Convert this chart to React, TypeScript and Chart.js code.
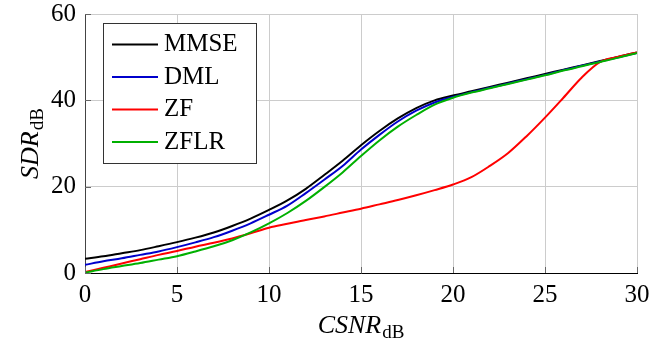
import React, { useEffect, useRef } from "react";
import { Chart, registerables } from "chart.js";

Chart.register(...registerables);

const csnr = [0, 1, 2, 3, 4, 5, 6, 7, 8, 9, 10, 11, 12, 13, 14, 15, 16, 17, 18, 19, 20, 21, 22, 23, 24, 25, 26, 27, 28, 29, 30];
const mmse = [3.3, 3.9, 4.6, 5.3, 6.2, 7.15, 8.2, 9.4, 10.9, 12.6, 14.6, 16.8, 19.5, 22.7, 26.0, 29.6, 32.9, 35.8, 38.2, 40.0, 41.1, 42.1, 43.1, 44.1, 45.1, 46.1, 47.1, 48.1, 49.1, 50.1, 51.1];
const dml = [1.9, 2.7, 3.4, 4.2, 5.0, 6.0, 7.1, 8.3, 9.8, 11.5, 13.5, 15.6, 18.5, 21.6, 24.8, 28.6, 32.0, 35.1, 37.6, 39.5, 40.8, 41.9, 42.9, 43.9, 44.9, 45.9, 47.0, 48.0, 49.0, 50.0, 51.0];
const zf = [0.2, 1.2, 2.2, 3.2, 4.2, 5.1, 6.1, 7.0, 8.0, 9.2, 10.5, 11.4, 12.3, 13.1, 14.0, 14.9, 15.9, 16.9, 18.0, 19.2, 20.5, 22.2, 24.8, 27.8, 31.7, 36.0, 40.6, 45.3, 48.9, 50.1, 51.1];
const zflr = [0.1, 0.9, 1.6, 2.3, 3.1, 3.9, 5.0, 6.2, 7.6, 9.4, 11.5, 13.9, 16.7, 19.9, 23.3, 27.1, 30.7, 33.9, 36.6, 39.0, 40.6, 41.8, 42.8, 43.8, 44.8, 45.8, 46.9, 47.9, 48.9, 49.9, 51.0];

const seriesNames = ["MMSE", "DML", "ZF", "ZFLR"];
const seriesValues = [mmse, dml, zf, zflr];
const seriesColors = ["#000000", "#0000cc", "#ff0000", "#00b000"];
const xTicks = [0, 5, 10, 15, 20, 25, 30];
const yTicks = [0, 20, 40, 60];
const xTitle = ["CSNR", "dB"];
const yTitle = ["SDR", "dB"];

const SERIF = "'Liberation Serif', 'Times New Roman', Times, serif";

function drawSubText(ctx: CanvasRenderingContext2D, main: string, sub: string, cx: number, cy: number) {
  ctx.font = `italic 26px ${SERIF}`;
  const w1 = ctx.measureText(main).width;
  ctx.font = `19px ${SERIF}`;
  const w2 = ctx.measureText(sub).width;
  const start = cx - (w1 + w2 + 1) / 2;
  ctx.textBaseline = "alphabetic";
  ctx.textAlign = "left";
  ctx.fillStyle = "#000";
  ctx.font = `italic 26px ${SERIF}`;
  ctx.fillText(main, start, cy);
  ctx.font = `19px ${SERIF}`;
  ctx.fillText(sub, start + w1 + 1, cy + 5);
}

const decorPlugin = {
  id: "decor",
  afterDatasetsDraw(chart: any) {
    const ctx = chart.ctx as CanvasRenderingContext2D;
    const xs = chart.scales.x;
    const ys = chart.scales.y;
    const area = chart.chartArea;
    ctx.save();
    ctx.strokeStyle = "#666";
    ctx.lineWidth = 1;
    ctx.beginPath();
    xTicks.forEach((t) => {
      const px = Math.round(xs.getPixelForValue(t)) + 0.5;
      ctx.moveTo(px, area.bottom);
      ctx.lineTo(px, area.bottom - 6);
    });
    yTicks.forEach((t) => {
      const py = Math.round(ys.getPixelForValue(t)) + 0.5;
      ctx.moveTo(area.left, py);
      ctx.lineTo(area.left + 6, py);
    });
    ctx.stroke();

    const bx = 103.5, by = 23.5, bw = 153, bh = 140;
    ctx.fillStyle = "#fff";
    ctx.fillRect(bx, by, bw, bh);
    ctx.strokeStyle = "#333";
    ctx.lineWidth = 1;
    ctx.strokeRect(bx, by, bw, bh);
    chart.data.datasets.forEach((ds: any, i: number) => {
      const y = 44.5 + i * 32.5;
      ctx.strokeStyle = ds.borderColor;
      ctx.lineWidth = 2;
      ctx.beginPath();
      ctx.moveTo(112, y);
      ctx.lineTo(158, y);
      ctx.stroke();
      ctx.fillStyle = "#000";
      ctx.font = `25px ${SERIF}`;
      ctx.textBaseline = "middle";
      ctx.textAlign = "left";
      ctx.fillText(ds.label, 164, y);
    });

    drawSubText(ctx, xTitle[0], xTitle[1], (area.left + area.right) / 2, 333);
    ctx.translate(38, (area.top + area.bottom) / 2);
    ctx.rotate(-Math.PI / 2);
    drawSubText(ctx, yTitle[0], yTitle[1], 0, 0);
    ctx.restore();
  },
};

export default function App() {
  const ref = useRef<HTMLCanvasElement>(null);
  useEffect(() => {
    document.body.style.margin = "0";
    let chart: Chart | null = null;
    let cancelled = false;
    const build = () => {
      if (cancelled || !ref.current) return;
      chart = new Chart(ref.current, {
        type: "line",
        data: {
          labels: csnr,
          datasets: seriesNames.map((name, i) => ({
            label: name,
            data: csnr.map((x, j) => ({ x, y: seriesValues[i][j] })),
            borderColor: seriesColors[i],
            backgroundColor: seriesColors[i],
            borderWidth: 2,
            pointRadius: 0,
            fill: false,
            cubicInterpolationMode: "monotone" as const,
            order: seriesNames.length - i,
          })),
        },
        options: {
          animation: false,
          responsive: false,
          devicePixelRatio: 1,
          layout: { padding: { top: 14, right: 13, left: 0, bottom: 0 } },
          plugins: { legend: { display: false }, tooltip: { enabled: false } },
          scales: {
            x: {
              type: "linear",
              min: 0,
              max: 30,
              afterBuildTicks: (s: any) => { s.ticks = xTicks.map((v) => ({ value: v })); },
              afterFit: (s: any) => { s.height = 69; s.paddingLeft = 0; s.paddingRight = 0; },
              ticks: { color: "#000", font: { family: SERIF, size: 25 }, padding: 7, maxRotation: 0 },
              grid: { color: "#cccccc", drawTicks: false, lineWidth: 1 },
              border: { display: true, color: "#000", width: 1 },
            },
            y: {
              min: 0,
              max: 60,
              afterBuildTicks: (s: any) => { s.ticks = yTicks.map((v) => ({ value: v })); },
              afterFit: (s: any) => { s.width = 85; s.paddingTop = 0; s.paddingBottom = 0; },
              ticks: { color: "#000", font: { family: SERIF, size: 25 }, padding: 9 },
              grid: { color: "#cccccc", drawTicks: false, lineWidth: 1 },
              border: { display: true, color: "#444", width: 1 },
            },
          },
        },
        plugins: [decorPlugin],
      });
    };
    const fonts = (document as any).fonts;
    if (fonts && fonts.load) {
      Promise.all([
        fonts.load(`25px "Liberation Serif"`),
        fonts.load(`italic 26px "Liberation Serif"`),
      ]).then(build, build);
    } else {
      build();
    }
    return () => {
      cancelled = true;
      if (chart) chart.destroy();
    };
  }, []);
  return (
    <div style={{ width: 650, height: 342 }}>
      <canvas ref={ref} width={650} height={342} style={{ display: "block" }} />
    </div>
  );
}
